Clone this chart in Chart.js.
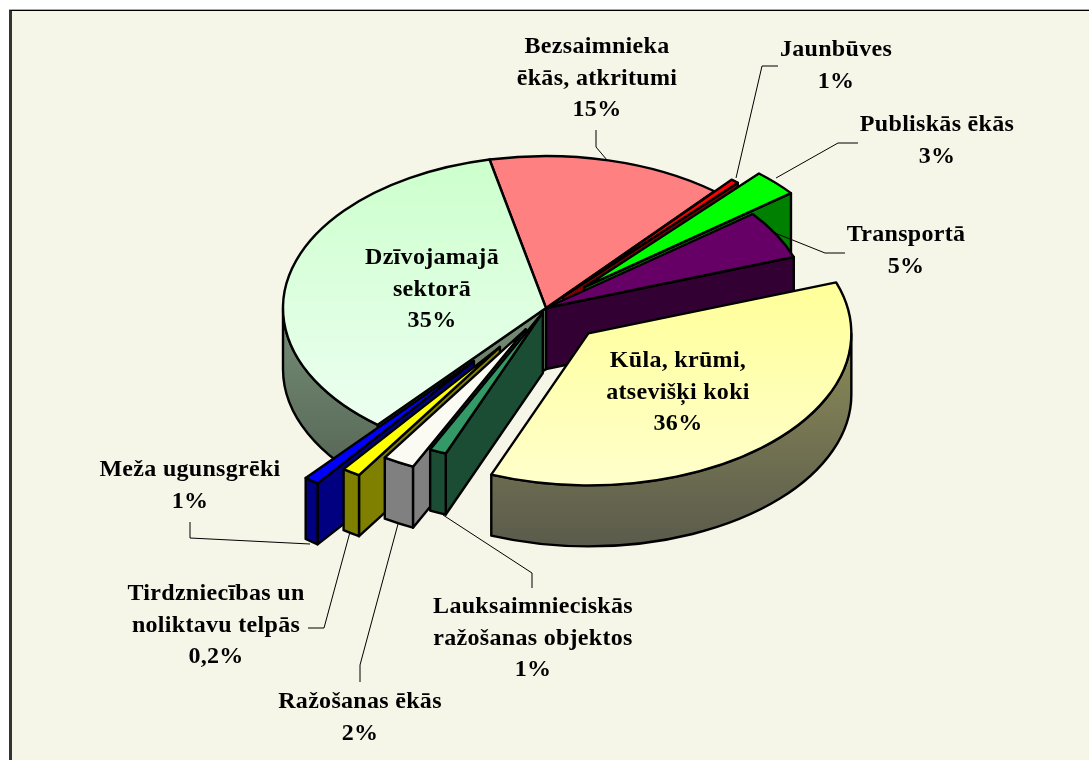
<!DOCTYPE html>
<html lang="lv">
<head>
<meta charset="UTF-8">
<title>Ugunsgrēki pēc objektu veida</title>
<script src="https://cdn.jsdelivr.net/npm/chart.js@4/dist/chart.umd.min.js"></script>
<style>
    html, body { margin: 0; padding: 0; background: #fff; overflow: hidden; }
    #frame { position: absolute; left: 9px; top: 10px; width: 1080px; height: 750px; background: #f5f5e8;
             border-left: 3px solid #333; border-top: 1px solid #000; box-shadow: 0 -1px 0 #aaa; box-sizing: border-box; }
    #wrap { position: absolute; left: 0; top: 0; width: 1089px; height: 760px; }
</style>
</head>
<body>
<div id="frame"></div>
<div id="wrap"><canvas id="pie" width="1089" height="760"></canvas></div>

<script>
// clockwise from the top of the pie
const categories = [
    ['Bezsaimnieka', 'ēkās, atkritumi'],
    ['Jaunbūves'],
    ['Publiskās ēkās'],
    ['Transportā'],
    ['Kūla, krūmi,', 'atsevišķi koki'],
    ['Lauksaimnieciskās', 'ražošanas objektos'],
    ['Ražošanas ēkās'],
    ['Tirdzniecības un', 'noliktavu telpās'],
    ['Meža ugunsgrēki'],
    ['Dzīvojamajā', 'sektorā']
];
// printed percentages
const percentTexts = ['15%', '1%', '3%', '5%', '36%', '1%', '2%', '0,2%', '1%', '35%'];
// slice sizes as they are drawn in the picture
const sliceShares = [14.5, 0.5, 2.83, 5.17, 36.45, 1.03, 1.95, 1.13, 0.92, 35.5];
// how far each slice is pulled out, as a share of the radius
const explode = [0, 0.1, 0.2, 0, 0.232, 0.03, 0.16, 0.31, 0.444, 0];

const topColors = ['#ff8080', '#ff0000', '#00ff00', '#660066', null, '#339966', '#fbfbf4', '#ffff00', '#0000ff', null];
const wallColors = ['#804040', '#800000', '#008000', '#330033', null, '#1a4d33', '#808080', '#808000', '#000080', null];

const RADIUS = 263, TILT = 0.578, DEPTH = 61;
const CENTRE_X = 546, CENTRE_Y = 308;
const START_ANGLE = -12.4;

// label block centre x and first line y
const labelSpots = [[597, 47], [836, 50], [937, 125], [906, 235], [678, 361], [533, 607], [360, 702], [216, 594], [190, 470], [432, 258]];
const LINE_H = 31.5;
const leaders = [
    [[596, 130], [596, 147], [607, 160]],
    [[778, 66], [762, 66], [736, 178]],
    [[858, 143], [838, 143], [776, 178]],
    [[845, 253], [825, 253], [775, 233]],
    [[532, 588], [532, 573], [443, 515]],
    [[360, 682], [360, 665], [398, 524]],
    [[308, 628], [324, 628], [350, 532]],
    [[190, 522], [190, 538], [310, 544]]
];

const canvas = document.getElementById('pie');
const g = canvas.getContext('2d');

function vGrad(y0, c0, y1, c1) {
    const gr = g.createLinearGradient(0, y0, 0, y1);
    gr.addColorStop(0, c0);
    gr.addColorStop(1, c1);
    return gr;
}
// top faces are filled in the pie's own unsquashed space
topColors[4] = vGrad(290, '#ffff99', 645, '#ffffcc');
topColors[9] = vGrad(119, '#ccffcc', 574, '#ecfff0');
wallColors[4] = vGrad(340, '#8a8a58', 550, '#5a5a4c');
wallColors[9] = vGrad(320, '#748c74', 480, '#556455');

const pie3d = {
    id: 'pie3d',
    beforeDatasetsDraw(chart) {
        const ctx = chart.ctx;
        const arcs = chart.getDatasetMeta(0).data;
        const order = arcs.map((a, i) => i).sort((p, q) => {
            const mp = (arcs[p].startAngle + arcs[p].endAngle) / 2;
            const mq = (arcs[q].startAngle + arcs[q].endAngle) / 2;
            return Math.sin(mp) - Math.sin(mq);
        });
        ctx.save();
        ctx.lineWidth = 2.4;
        ctx.lineJoin = 'round';
        ctx.strokeStyle = '#000';
        order.forEach(i => drawSlice(ctx, arcs[i], i));
        ctx.restore();
        return false;
    },
    afterDraw(chart) {
        const ctx = chart.ctx;
        ctx.save();
        ctx.strokeStyle = '#000';
        ctx.lineWidth = 1;
        leaders.forEach(pts => {
            ctx.beginPath();
            pts.forEach((p, k) => k ? ctx.lineTo(p[0], p[1]) : ctx.moveTo(p[0], p[1]));
            ctx.stroke();
        });
        ctx.fillStyle = '#000';
        ctx.font = 'bold 24px "Liberation Serif"';
        ctx.textAlign = 'center';
        ctx.textBaseline = 'middle';
        ctx.letterSpacing = '0.3px';
        categories.forEach((lines, i) => {
            const [x, y] = labelSpots[i];
            lines.concat(percentTexts[i]).forEach((t, k) => ctx.fillText(t, x, y + k * LINE_H));
        });
        ctx.restore();
    }
};

function drawSlice(ctx, arc, i) {
    const s = arc.startAngle, e = arc.endAngle, R = arc.outerRadius;
    const mid = (s + e) / 2;
    const shift = explode[i] * R;
    // apex of the slice on screen
    const ax = CENTRE_X + Math.cos(mid) * shift;
    const ay = CENTRE_Y + Math.sin(mid) * shift * TILT;
    const px = a => ax + R * Math.cos(a);
    const py = a => ay + R * TILT * Math.sin(a);

    const wall = path => {
        ctx.beginPath();
        path();
        ctx.closePath();
        ctx.fillStyle = wallColors[i];
        ctx.fill();
        ctx.stroke();
    };
    const radial = a => wall(() => {
        ctx.moveTo(ax, ay);
        ctx.lineTo(px(a), py(a));
        ctx.lineTo(px(a), py(a) + DEPTH);
        ctx.lineTo(ax, ay + DEPTH);
    });

    if (Math.cos(s) < 0) radial(s);
    if (Math.cos(e) > 0) radial(e);

    // outer wall, only the part that faces the viewer
    const a0 = Math.max(s, 0), a1 = Math.min(e, Math.PI);
    if (a1 > a0) {
        wall(() => {
            ctx.ellipse(ax, ay, R, R * TILT, 0, a0, a1);
            ctx.lineTo(px(a1), py(a1) + DEPTH);
            ctx.ellipse(ax, ay + DEPTH, R, R * TILT, 0, a1, a0, true);
        });
    }

    // top face: the library's arc element under a squashed transform
    ctx.save();
    ctx.setTransform(1, 0, 0, TILT, ax - arc.x, ay - arc.y * TILT);
    arc.draw(ctx);
    ctx.restore();

    ctx.beginPath();
    ctx.moveTo(ax, ay);
    ctx.ellipse(ax, ay, R, R * TILT, 0, s, e);
    ctx.closePath();
    ctx.stroke();
}

new Chart(canvas, {
    type: 'pie',
    data: {
        labels: categories.map(c => c.join(' ')),
        datasets: [{
            data: sliceShares,
            backgroundColor: topColors,
            borderWidth: 0
        }]
    },
    options: {
        responsive: false,
        animation: false,
        radius: RADIUS,
        rotation: START_ANGLE,
        plugins: { legend: { display: false }, tooltip: { enabled: false } }
    },
    plugins: [pie3d]
});
</script>
</body>
</html>
